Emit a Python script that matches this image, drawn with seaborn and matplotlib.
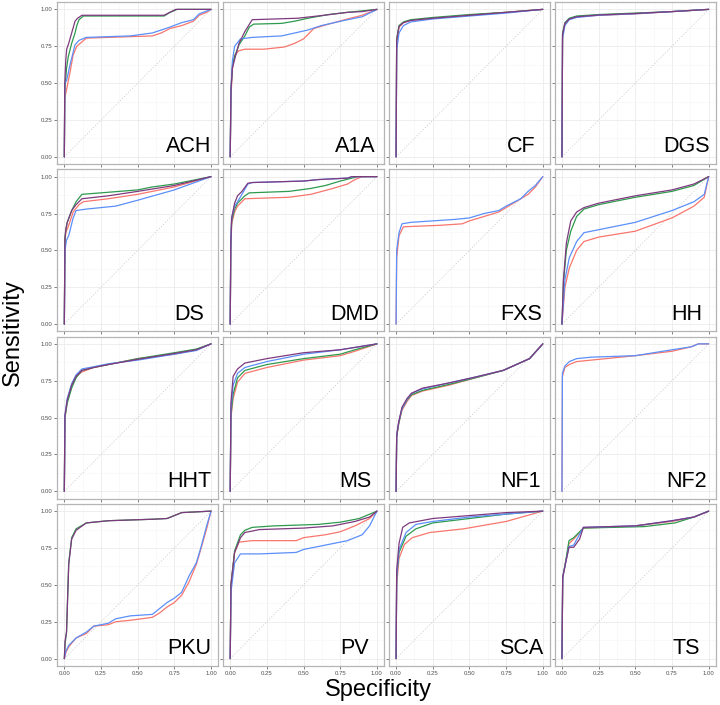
import pandas as pd
import matplotlib
matplotlib.use("Agg")
import matplotlib.pyplot as plt
import seaborn as sns

# panel order (facet_wrap, 4 x 4)
panels = ["ACH", "A1A", "CF", "DGS",
          "DS", "DMD", "FXS", "HH",
          "HHT", "MS", "NF1", "NF2",
          "PKU", "PV", "SCA", "TS"]
models = ["m1", "m2", "m3", "m4"]

# (specificity, sensitivity) points
ACH = {
    "m1": [(0, 0), (0.003, 0.4), (0.016, 0.46), (0.04, 0.58), (0.06, 0.69), (0.085, 0.75), (0.15, 0.805), (0.45, 0.815),
           (0.6, 0.82), (0.66, 0.84), (0.72, 0.87), (0.8, 0.89), (0.88, 0.92), (0.92, 0.96), (0.97, 0.98), (1, 1)],
    "m2": [(0, 0), (0.003, 0.45), (0.015, 0.6), (0.027, 0.68), (0.05, 0.77), (0.073, 0.84), (0.085, 0.89), (0.1, 0.93),
           (0.13, 0.955), (0.68, 0.955), (0.72, 0.98), (0.77, 1), (1, 1)],
    "m3": [(0, 0), (0.003, 0.5), (0.016, 0.52), (0.04, 0.63), (0.073, 0.76), (0.1, 0.79), (0.15, 0.81), (0.45, 0.82),
           (0.6, 0.84), (0.66, 0.86), (0.72, 0.88), (0.8, 0.91), (0.88, 0.93), (0.92, 0.97), (1, 1)],
    "m4": [(0, 0), (0.003, 0.5), (0.01, 0.66), (0.016, 0.73), (0.03, 0.77), (0.05, 0.84), (0.073, 0.92), (0.09, 0.94),
           (0.12, 0.96), (0.68, 0.96), (0.72, 0.98), (0.76, 1), (1, 1)],
}
A1A = {
    "m1": [(0, 0), (0.005, 0.4), (0.015, 0.6), (0.03, 0.69), (0.06, 0.72), (0.1, 0.73), (0.23, 0.73), (0.37, 0.745),
           (0.44, 0.77), (0.5, 0.8), (0.57, 0.87), (0.67, 0.9), (0.8, 0.935), (0.9, 0.96), (1, 1)],
    "m2": [(0, 0), (0.005, 0.45), (0.015, 0.62), (0.03, 0.68), (0.06, 0.76), (0.1, 0.82), (0.13, 0.88), (0.16, 0.9),
           (0.35, 0.905), (0.44, 0.92), (0.53, 0.94), (0.67, 0.965), (0.8, 0.98), (1, 1)],
    "m3": [(0, 0), (0.005, 0.45), (0.015, 0.65), (0.03, 0.75), (0.07, 0.8), (0.15, 0.81), (0.35, 0.82), (0.44, 0.84),
           (0.53, 0.86), (0.62, 0.89), (0.71, 0.91), (0.8, 0.93), (0.9, 0.95), (1, 1)],
    "m4": [(0, 0), (0.005, 0.45), (0.015, 0.6), (0.03, 0.66), (0.06, 0.77), (0.1, 0.85), (0.15, 0.93), (0.46, 0.94),
           (0.64, 0.96), (0.8, 0.98), (0.9, 0.985), (1, 1)],
}
CF = {
    "m1": [(0, 0), (0.004, 0.78), (0.02, 0.88), (0.05, 0.91), (0.1, 0.925), (0.25, 0.94), (0.5, 0.96), (0.75, 0.98), (1, 1)],
    "m2": [(0, 0), (0.004, 0.8), (0.02, 0.89), (0.05, 0.915), (0.1, 0.93), (0.25, 0.945), (0.5, 0.965), (0.75, 0.98), (1, 1)],
    "m3": [(0, 0), (0.004, 0.72), (0.02, 0.84), (0.05, 0.89), (0.1, 0.915), (0.25, 0.935), (0.5, 0.955), (0.75, 0.975), (1, 1)],
    "m4": [(0, 0), (0.004, 0.79), (0.02, 0.885), (0.05, 0.91), (0.1, 0.925), (0.25, 0.94), (0.5, 0.96), (0.75, 0.98), (1, 1)],
}
DGS = {
    "m1": [(0, 0), (0.004, 0.82), (0.02, 0.9), (0.05, 0.935), (0.1, 0.95), (0.25, 0.96), (0.5, 0.97), (0.75, 0.985), (1, 1)],
    "m2": [(0, 0), (0.004, 0.84), (0.02, 0.91), (0.05, 0.94), (0.1, 0.955), (0.25, 0.965), (0.5, 0.975), (0.75, 0.985), (1, 1)],
    "m3": [(0, 0), (0.004, 0.8), (0.02, 0.89), (0.05, 0.93), (0.1, 0.945), (0.25, 0.96), (0.5, 0.97), (0.75, 0.985), (1, 1)],
    "m4": [(0, 0), (0.004, 0.83), (0.02, 0.905), (0.05, 0.935), (0.1, 0.95), (0.25, 0.962), (0.5, 0.972), (0.75, 0.985), (1, 1)],
}
DS = {
    "m1": [(0, 0), (0.004, 0.55), (0.01, 0.62), (0.03, 0.67), (0.06, 0.76), (0.1, 0.81), (0.13, 0.83), (0.3, 0.85),
           (0.5, 0.88), (0.75, 0.93), (1, 1)],
    "m2": [(0, 0), (0.004, 0.58), (0.01, 0.64), (0.02, 0.69), (0.05, 0.77), (0.08, 0.83), (0.12, 0.88), (0.25, 0.89),
           (0.5, 0.91), (0.6, 0.93), (0.75, 0.95), (0.9, 0.98), (1, 1)],
    "m3": [(0, 0), (0.004, 0.5), (0.015, 0.57), (0.03, 0.6), (0.06, 0.72), (0.08, 0.77), (0.15, 0.78), (0.35, 0.8),
           (0.5, 0.84), (0.75, 0.91), (1, 1)],
    "m4": [(0, 0), (0.004, 0.58), (0.01, 0.64), (0.02, 0.69), (0.05, 0.77), (0.08, 0.81), (0.12, 0.85), (0.3, 0.87),
           (0.5, 0.9), (0.75, 0.94), (1, 1)],
}
DMD = {
    "m1": [(0, 0), (0.004, 0.5), (0.01, 0.68), (0.03, 0.76), (0.05, 0.8), (0.1, 0.85), (0.4, 0.86), (0.55, 0.88),
           (0.7, 0.92), (0.8, 0.95), (0.85, 0.98), (0.9, 1), (1, 1)],
    "m2": [(0, 0), (0.004, 0.52), (0.01, 0.7), (0.03, 0.78), (0.05, 0.82), (0.1, 0.87), (0.13, 0.89), (0.4, 0.9),
           (0.55, 0.92), (0.65, 0.94), (0.75, 0.97), (0.83, 0.99), (0.87, 1), (1, 1)],
    "m3": [(0, 0), (0.004, 0.55), (0.01, 0.72), (0.03, 0.8), (0.05, 0.83), (0.08, 0.88), (0.12, 0.95), (0.15, 0.96),
           (0.5, 0.97), (0.6, 0.98), (0.8, 0.99), (0.83, 1), (1, 1)],
    "m4": [(0, 0), (0.004, 0.55), (0.01, 0.72), (0.03, 0.82), (0.05, 0.87), (0.08, 0.9), (0.12, 0.955), (0.15, 0.96),
           (0.5, 0.97), (0.6, 0.98), (0.8, 0.99), (0.83, 1), (1, 1)],
}
FXS = {
    "m1": [(0, 0), (0.004, 0.45), (0.02, 0.6), (0.05, 0.66), (0.3, 0.67), (0.45, 0.68), (0.5, 0.7), (0.6, 0.73),
           (0.7, 0.76), (0.8, 0.82), (0.9, 0.88), (0.95, 0.93), (1, 1)],
    "m3": [(0, 0), (0.004, 0.5), (0.02, 0.62), (0.04, 0.68), (0.1, 0.69), (0.25, 0.7), (0.4, 0.71), (0.5, 0.72),
           (0.6, 0.75), (0.7, 0.77), (0.75, 0.8), (0.85, 0.85), (0.9, 0.9), (0.95, 0.94), (1, 1)],
}
HH = {
    "m1": [(0, 0), (0.02, 0.25), (0.05, 0.38), (0.1, 0.5), (0.15, 0.56), (0.25, 0.59), (0.5, 0.63), (0.75, 0.72),
           (0.9, 0.8), (0.97, 0.86), (1, 1)],
    "m2": [(0, 0), (0.01, 0.28), (0.03, 0.5), (0.06, 0.63), (0.1, 0.73), (0.15, 0.78), (0.25, 0.81), (0.5, 0.86),
           (0.75, 0.9), (0.9, 0.94), (1, 1)],
    "m3": [(0, 0), (0.02, 0.3), (0.05, 0.45), (0.1, 0.56), (0.15, 0.62), (0.25, 0.64), (0.5, 0.69), (0.75, 0.77),
           (0.9, 0.83), (0.97, 0.88), (1, 1)],
    "m4": [(0, 0), (0.01, 0.3), (0.03, 0.55), (0.06, 0.7), (0.1, 0.76), (0.15, 0.79), (0.25, 0.82), (0.5, 0.87),
           (0.75, 0.91), (0.9, 0.95), (1, 1)],
}
HHT = {
    "m1": [(0, 0), (0.004, 0.5), (0.02, 0.61), (0.05, 0.72), (0.08, 0.78), (0.12, 0.81), (0.2, 0.84), (0.3, 0.86),
           (0.5, 0.9), (0.75, 0.93), (0.9, 0.96), (1, 1)],
    "m2": [(0, 0), (0.004, 0.5), (0.02, 0.6), (0.05, 0.7), (0.08, 0.77), (0.12, 0.82), (0.2, 0.84), (0.3, 0.86),
           (0.5, 0.9), (0.75, 0.94), (0.9, 0.965), (1, 1)],
    "m3": [(0, 0), (0.004, 0.52), (0.02, 0.63), (0.05, 0.73), (0.08, 0.79), (0.12, 0.83), (0.2, 0.845), (0.3, 0.865),
           (0.5, 0.89), (0.75, 0.93), (0.9, 0.955), (1, 1)],
    "m4": [(0, 0), (0.004, 0.51), (0.02, 0.62), (0.05, 0.72), (0.08, 0.78), (0.12, 0.82), (0.2, 0.84), (0.3, 0.86),
           (0.5, 0.895), (0.75, 0.935), (0.9, 0.96), (1, 1)],
}
MS = {
    "m1": [(0, 0), (0.005, 0.5), (0.02, 0.63), (0.05, 0.74), (0.1, 0.8), (0.25, 0.84), (0.5, 0.89), (0.75, 0.92),
           (0.85, 0.95), (1, 1)],
    "m2": [(0, 0), (0.005, 0.52), (0.02, 0.66), (0.05, 0.77), (0.1, 0.82), (0.25, 0.86), (0.5, 0.9), (0.75, 0.93),
           (0.85, 0.96), (1, 1)],
    "m3": [(0, 0), (0.005, 0.56), (0.02, 0.72), (0.05, 0.8), (0.1, 0.84), (0.25, 0.88), (0.5, 0.93), (0.75, 0.96), (1, 1)],
    "m4": [(0, 0), (0.005, 0.6), (0.02, 0.78), (0.05, 0.83), (0.1, 0.87), (0.25, 0.9), (0.5, 0.94), (0.75, 0.96), (1, 1)],
}
NF1 = {
    "m1": [(0, 0), (0.004, 0.37), (0.01, 0.41), (0.018, 0.46), (0.04, 0.55), (0.075, 0.61), (0.105, 0.65), (0.18, 0.68),
           (0.36, 0.72), (0.54, 0.77), (0.73, 0.82), (0.91, 0.9), (1, 1)],
    "m2": [(0, 0), (0.004, 0.37), (0.01, 0.41), (0.018, 0.46), (0.04, 0.56), (0.075, 0.62), (0.105, 0.655), (0.18, 0.685),
           (0.36, 0.725), (0.54, 0.77), (0.73, 0.82), (0.91, 0.9), (1, 1)],
    "m3": [(0, 0), (0.004, 0.37), (0.01, 0.42), (0.018, 0.47), (0.04, 0.56), (0.075, 0.625), (0.105, 0.665), (0.18, 0.695),
           (0.36, 0.735), (0.54, 0.775), (0.73, 0.82), (0.91, 0.9), (1, 1)],
    "m4": [(0, 0), (0.004, 0.37), (0.01, 0.42), (0.018, 0.47), (0.04, 0.57), (0.075, 0.63), (0.105, 0.665), (0.18, 0.7),
           (0.36, 0.735), (0.54, 0.775), (0.73, 0.82), (0.91, 0.9), (1, 1)],
}
NF2 = {
    "m1": [(0, 0), (0.003, 0.78), (0.02, 0.84), (0.05, 0.86), (0.1, 0.88), (0.2, 0.89), (0.5, 0.92), (0.75, 0.95),
           (0.88, 0.98), (0.93, 1), (1, 1)],
    "m3": [(0, 0), (0.003, 0.8), (0.02, 0.85), (0.05, 0.88), (0.1, 0.9), (0.2, 0.91), (0.5, 0.92), (0.75, 0.96),
           (0.88, 0.98), (0.93, 1), (1, 1)],
}
PKU = {
    "m1": [(0, 0), (0.01, 0.04), (0.03, 0.08), (0.08, 0.14), (0.15, 0.17), (0.2, 0.22), (0.3, 0.23), (0.35, 0.25),
           (0.45, 0.26), (0.6, 0.28), (0.65, 0.31), (0.7, 0.35), (0.75, 0.38), (0.8, 0.43), (0.85, 0.52), (0.9, 0.64),
           (0.93, 0.74), (0.97, 0.88), (1, 1)],
    "m2": [(0, 0), (0.005, 0.1), (0.015, 0.18), (0.02, 0.35), (0.03, 0.65), (0.05, 0.82), (0.08, 0.88), (0.15, 0.92),
           (0.3, 0.935), (0.6, 0.945), (0.7, 0.95), (0.75, 0.97), (0.8, 0.99), (1, 1)],
    "m3": [(0, 0), (0.01, 0.05), (0.03, 0.09), (0.08, 0.14), (0.15, 0.18), (0.2, 0.22), (0.3, 0.24), (0.35, 0.27),
           (0.45, 0.29), (0.6, 0.3), (0.65, 0.34), (0.7, 0.38), (0.75, 0.41), (0.8, 0.45), (0.85, 0.56), (0.9, 0.65),
           (0.93, 0.75), (0.97, 0.9), (1, 1)],
    "m4": [(0, 0), (0.005, 0.12), (0.015, 0.18), (0.02, 0.33), (0.03, 0.64), (0.05, 0.81), (0.08, 0.87), (0.15, 0.92),
           (0.3, 0.935), (0.6, 0.945), (0.7, 0.95), (0.75, 0.97), (0.8, 0.99), (1, 1)],
}
PV = {
    "m1": [(0, 0), (0.005, 0.5), (0.03, 0.72), (0.06, 0.79), (0.15, 0.8), (0.45, 0.8), (0.5, 0.82), (0.65, 0.84),
           (0.75, 0.86), (0.85, 0.9), (0.95, 0.95), (1, 1)],
    "m2": [(0, 0), (0.005, 0.5), (0.03, 0.73), (0.07, 0.84), (0.1, 0.87), (0.15, 0.89), (0.3, 0.9), (0.6, 0.91),
           (0.75, 0.925), (0.88, 0.95), (1, 1)],
    "m3": [(0, 0), (0.005, 0.45), (0.03, 0.65), (0.07, 0.71), (0.2, 0.71), (0.45, 0.72), (0.5, 0.74), (0.65, 0.77),
           (0.8, 0.8), (0.9, 0.84), (0.95, 0.9), (1, 1)],
    "m4": [(0, 0), (0.005, 0.5), (0.03, 0.72), (0.07, 0.82), (0.1, 0.855), (0.2, 0.875), (0.5, 0.885), (0.7, 0.9),
           (0.85, 0.93), (0.95, 0.96), (1, 1)],
}
SCA = {
    "m1": [(0, 0), (0.004, 0.5), (0.02, 0.68), (0.057, 0.775), (0.11, 0.82), (0.23, 0.855), (0.46, 0.88), (0.75, 0.93), (1, 1)],
    "m2": [(0, 0), (0.004, 0.55), (0.02, 0.72), (0.068, 0.83), (0.135, 0.88), (0.25, 0.92), (0.5, 0.95), (0.75, 0.98), (1, 1)],
    "m3": [(0, 0), (0.004, 0.56), (0.02, 0.74), (0.068, 0.855), (0.135, 0.91), (0.25, 0.93), (0.5, 0.96), (0.75, 0.98), (1, 1)],
    "m4": [(0, 0), (0.004, 0.6), (0.02, 0.78), (0.045, 0.89), (0.09, 0.92), (0.25, 0.95), (0.5, 0.97), (0.75, 0.99), (1, 1)],
}
TS = {
    "m1": [(0, 0), (0.005, 0.55), (0.025, 0.65), (0.048, 0.78), (0.08, 0.81), (0.146, 0.885), (0.5, 0.9), (0.75, 0.93),
           (0.9, 0.96), (1, 1)],
    "m2": [(0, 0), (0.005, 0.55), (0.025, 0.66), (0.048, 0.8), (0.08, 0.82), (0.146, 0.885), (0.56, 0.895), (0.77, 0.92),
           (0.9, 0.96), (1, 1)],
    "m3": [(0, 0), (0.005, 0.55), (0.025, 0.65), (0.048, 0.76), (0.08, 0.77), (0.146, 0.89), (0.5, 0.9), (0.75, 0.935),
           (0.9, 0.96), (1, 1)],
    "m4": [(0, 0), (0.005, 0.55), (0.025, 0.65), (0.048, 0.755), (0.08, 0.755), (0.12, 0.81), (0.146, 0.89), (0.5, 0.9),
           (0.75, 0.935), (0.9, 0.96), (1, 1)],
}

curves = {"ACH": ACH, "A1A": A1A, "CF": CF, "DGS": DGS, "DS": DS, "DMD": DMD, "FXS": FXS, "HH": HH,
          "HHT": HHT, "MS": MS, "NF1": NF1, "NF2": NF2, "PKU": PKU, "PV": PV, "SCA": SCA, "TS": TS}

rows = []
for name, series in curves.items():
    for model, pts in series.items():
        for i, (x, y) in enumerate(pts):
            rows.append({"panel": name, "model": model, "step": i, "spec": x, "sens": y})
df = pd.DataFrame(rows)

palette = {"m1": "#F8766D", "m2": "#2E9A4E", "m3": "#5B8FF9", "m4": "#7E3A7E"}

sns.set_theme(style="white")
plt.rcParams["font.family"] = ["Liberation Sans", "DejaVu Sans"]

fig, axes = plt.subplots(4, 4, figsize=(7.2, 7.05), dpi=100, sharex=True, sharey=True)
fig.subplots_adjust(left=57 / 720, right=716 / 720, top=1 - 2 / 705, bottom=1 - 666 / 705,
                    wspace=4.5 / 161, hspace=5 / 162)

ticks = [0, 0.25, 0.5, 0.75, 1.0]
minor = [0.125, 0.375, 0.625, 0.875]

for ax, name in zip(axes.flat, panels):
    sub = df[df["panel"] == name]
    ax.plot([0, 1], [0, 1], linestyle=(0, (1.5, 2)), color="#CFCFCF", lw=0.6, zorder=1)
    sns.lineplot(data=sub, x="spec", y="sens", hue="model", hue_order=[m for m in models if m in sub["model"].values],
                 palette=palette, sort=False, estimator=None, legend=False, lw=0.9, ax=ax)
    ax.set_xlim(-0.05, 1.05)
    ax.set_ylim(-0.05, 1.05)
    ax.set_xticks(ticks)
    ax.set_yticks(ticks)
    ax.set_xticks(minor, minor=True)
    ax.set_yticks(minor, minor=True)
    ax.set_xticklabels(["0.00", "0.25", "0.50", "0.75", "1.00"])
    ax.set_yticklabels(["0.00", "0.25", "0.50", "0.75", "1.00"])
    ax.grid(True, which="major", color="#EBEBEB", lw=0.6)
    ax.grid(True, which="minor", color="#F5F5F5", lw=0.4)
    ax.set_axisbelow(True)
    for sp in ax.spines.values():
        sp.set_color("#B5B5B5")
        sp.set_linewidth(0.9)
    ax.tick_params(which="major", length=2, width=0.5, color="#4D4D4D", labelsize=4.3,
                   labelcolor="#4D4D4D", pad=1.5, bottom=True, left=True)
    ax.tick_params(which="minor", length=0)
    ax.set_xlabel("")
    ax.set_ylabel("")
    ax.text(0.85, 0.03, name, ha="center", va="baseline", fontsize=15.5, color="black")

fig.text(378 / 720, 1 - 690 / 705, "Specificity", ha="center", va="center", fontsize=17, color="black")
fig.text(13 / 720, 1 - 333 / 705, "Sensitivity", ha="center", va="center", rotation=90, fontsize=17, color="black")

fig.savefig("out.png", dpi=100)
